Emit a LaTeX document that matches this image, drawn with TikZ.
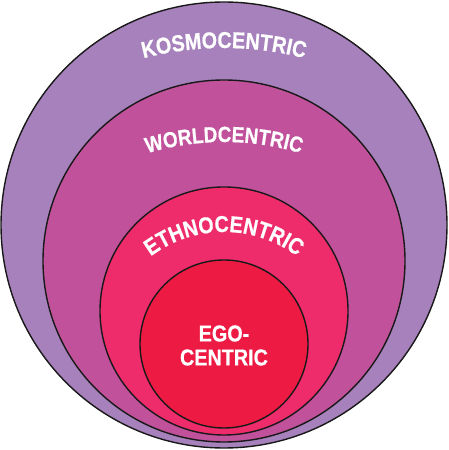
\documentclass[tikz,border=0pt]{standalone}
\usepackage{fontspec}
\setmainfont{Liberation Sans}
\newfontfamily\egofont[FakeStretch=0.86,FakeBold=0.6]{Liberation Sans Bold}
\newfontfamily\ringfont[FakeStretch=0.86,FakeBold=0.6]{Liberation Sans Bold}
\usetikzlibrary{decorations.text,calc}
\definecolor{kosmo}{RGB}{166,129,188}
\definecolor{world}{RGB}{193,81,155}
\definecolor{ethno}{RGB}{238,43,107}
\definecolor{ego}{RGB}{237,26,67}
\tikzset{
  ring/.style={circle, draw=black!90, line width=1.4pt, inner sep=0pt},
  ringlabel/.style={decorate, decoration={text along path, text align=center, text={#1}}}
}
\begin{document}
\begin{tikzpicture}[x=1pt,y=1pt]
\useasboundingbox (0,0) rectangle (448,450);
\node[ring, fill=kosmo, minimum size=446pt] (kosmos) at (224,225) {};
\node[ring, fill=world, minimum size=362pt] (worldc) at (224,189) {};
\node[ring, fill=ethno, minimum size=248pt] (ethnoc) at (224,139) {};
\node[ring, fill=ego, minimum size=168pt] (egoc) at (224,106) {};
\coordinate (ck) at (224,82);
\coordinate (cw) at (224,41);
\coordinate (ce) at (224,96);
\path[ringlabel={|\ringfont\fontsize{23}{26}\selectfont\color{white}|KOSMOCENTRIC}]
  ($(ck)+(105:320)$) arc[start angle=105, end angle=75, radius=320];
\path[ringlabel={|\ringfont\fontsize{22}{26}\selectfont\color{white}|WORLDCENTRIC}]
  ($(cw)+(107.2:267)$) arc[start angle=107.2, end angle=72.8, radius=267];
\path[ringlabel={|\ringfont\fontsize{23}{26}\selectfont\color{white}|ETHNOCENTRIC}]
  ($(ce)+(127:122)$) arc[start angle=127, end angle=53, radius=122];
\node[text=white, align=center, font=\egofont\fontsize{23}{24}\selectfont] (egotext) at (224,104.5) {EGO-\\CENTRIC};
\end{tikzpicture}
\end{document}
